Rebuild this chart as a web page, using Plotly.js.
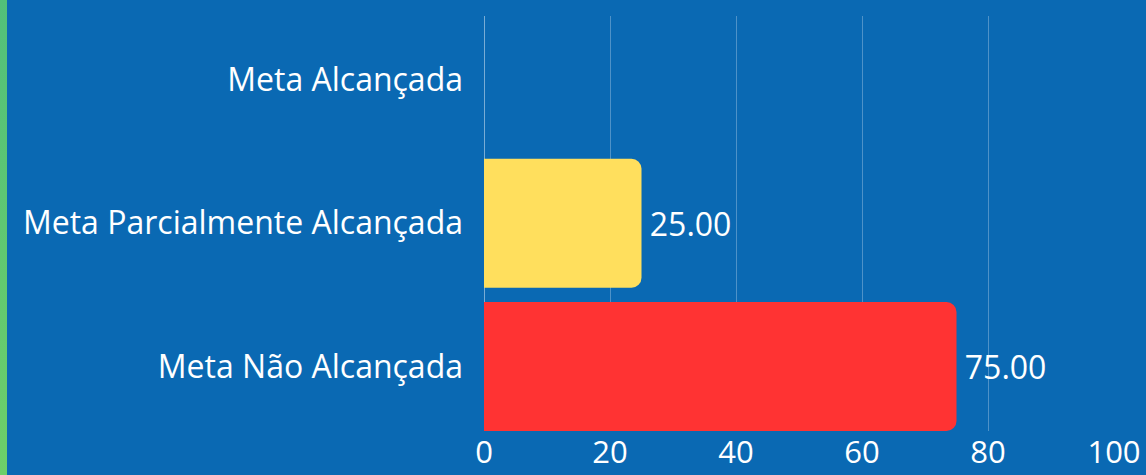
<!DOCTYPE html>
<html>
<head>
<meta charset="utf-8">
<script src="https://cdn.plot.ly/plotly-3.0.1.min.js"></script>
<style>
html,body{margin:0;padding:0;background:#0a69b3;overflow:hidden;}
#wrap{position:relative;width:1146px;height:475px;}
#strip{position:absolute;left:0;top:0;width:7px;height:475px;background:linear-gradient(#52c07a,#6dcf69);z-index:2;}
#chart{position:absolute;left:0;top:0;width:1146px;height:475px;}
</style>
</head>
<body>
<div id="wrap"><div id="strip"></div><div id="chart"></div></div>
<script>
const categories = ["Meta Não Alcançada", "Meta Parcialmente Alcançada", "Meta Alcançada"];
const values = [75, 25, 0];
const barColors = ["#ff3333", "#ffdf5d", "#2ecc71"];
const tickVals = [0, 20, 40, 60, 80, 100];

const trace = {
  type: "bar",
  orientation: "h",
  y: categories,
  x: values,
  width: 0.9,
  marker: {color: barColors, cornerradius: 10, line: {width: 0}},
  text: values.map(v => v > 0 ? "\u2009" + v.toFixed(2) : ""),
  textposition: "outside",
  cliponaxis: false,
  textfont: {family: "Open Sans", size: 32, color: "#ffffff"},
  hoverinfo: "none"
};

const layout = {
  width: 1146, height: 475,
  margin: {l: 484, r: 32, t: 16, b: 44},
  paper_bgcolor: "#0a69b3",
  plot_bgcolor: "#0a69b3",
  showlegend: false,
  font: {family: "Open Sans", color: "#ffffff"},
  xaxis: {
    range: [0, 100],
    tickvals: tickVals,
    ticktext: tickVals.map(String),
    showgrid: true,
    gridcolor: "rgba(255,255,255,0.28)",
    gridwidth: 1,
    zeroline: true,
    zerolinecolor: "rgba(255,255,255,0.45)",
    zerolinewidth: 1,
    showline: false,
    ticks: "",
    tickfont: {family: "Open Sans", size: 31, color: "#ffffff"},
    fixedrange: true
  },
  yaxis: {
    type: "category",
    range: [-0.45, 2.446],
    showgrid: false,
    zeroline: false,
    showline: false,
    ticks: "",
    ticklabelstandoff: 20,
    tickfont: {family: "Open Sans", size: 32, color: "#ffffff"},
    fixedrange: true
  }
};

Plotly.newPlot("chart", [trace], layout, {displayModeBar: false, staticPlot: true});
</script>
</body>
</html>
